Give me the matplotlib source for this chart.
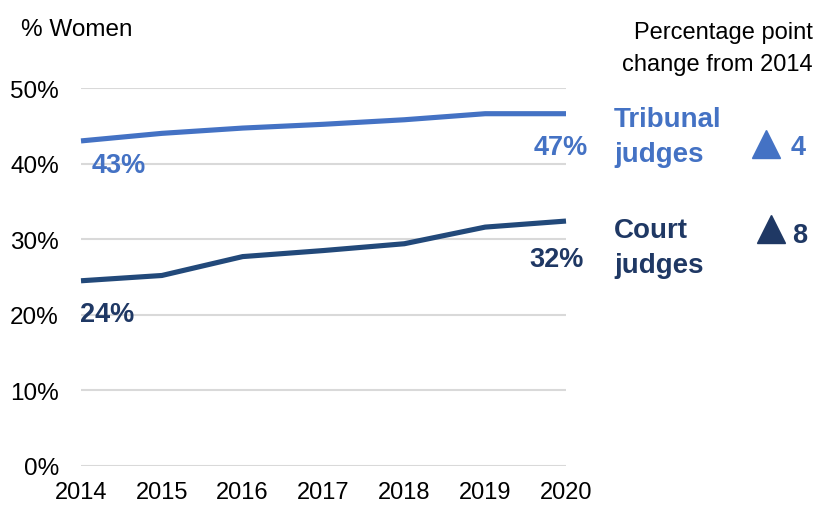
import matplotlib
matplotlib.use("Agg")
import matplotlib.pyplot as plt

plt.rcParams['font.family'] = ['Liberation Sans', 'DejaVu Sans']

years = [2014, 2015, 2016, 2017, 2018, 2019, 2020]
tribunal = [43.0, 44.0, 44.7, 45.2, 45.8, 46.6, 46.6]
court = [24.5, 25.2, 27.7, 28.5, 29.4, 31.6, 32.4]
yticks = [0, 10, 20, 30, 40, 50]
ytick_labels = ["0%", "10%", "20%", "30%", "40%", "50%"]
change_tribunal = "4"
change_court = "8"

C_TRIB = '#4472C4'
C_COURT_LINE = '#22497A'
C_COURT = '#1F3864'

W, H = 817, 506
fig = plt.figure(figsize=(W / 100, H / 100), dpi=100)
ax = fig.add_axes([81 / W, 1 - 467 / H, (566 - 81) / W, (467 - 89) / H])

ax.set_xlim(2014, 2020)
ax.set_ylim(0, 50)
ax.set_yticks(yticks)
ax.set_yticklabels(ytick_labels)
ax.set_xticks(years)
ax.set_xticklabels([str(y) for y in years])
ax.grid(axis='y', color='#D9D9D9', linewidth=1.5)
ax.set_axisbelow(True)
for s in ax.spines.values():
    s.set_visible(False)
ax.tick_params(length=0, labelsize=17.5, colors='black')
ax.tick_params(axis='y', pad=16)
ax.tick_params(axis='x', pad=10.5, labelsize=17)

ax.plot(years, tribunal, color=C_TRIB, lw=3.7, clip_on=False, solid_capstyle='butt')
ax.plot(years, court, color=C_COURT_LINE, lw=3.7, clip_on=False, solid_capstyle='butt')

lab_kw = dict(textcoords='offset pixels', fontsize=19.5, fontweight='bold', va='center')
ax.annotate(f"{tribunal[0]:.0f}%", (years[0], tribunal[0]), xytext=(11, -24),
            ha='left', color=C_TRIB, **lab_kw)
ax.annotate(f"{tribunal[-1]:.0f}%", (years[-1], tribunal[-1]), xytext=(22, -33),
            ha='right', color=C_TRIB, **lab_kw)
ax.annotate(f"{court[0]:.0f}%", (years[0], court[0]), xytext=(-1, -33),
            ha='left', color=C_COURT, **lab_kw)
ax.annotate(f"{court[-1]:.0f}%", (years[-1], court[-1]), xytext=(18, -38),
            ha='right', color=C_COURT, **lab_kw)

def fx(x):
    return x / W

def fy(y):
    return 1 - y / H

fig.text(fx(21), fy(30), "% Women", fontsize=17.5, va='center', ha='left')
fig.text(fx(813), fy(33), "Percentage point", fontsize=17, va='center', ha='right')
fig.text(fx(813), fy(65), "change from 2014", fontsize=17, va='center', ha='right')

fig.text(fx(614), fy(120), "Tribunal", fontsize=20, fontweight='bold', color=C_TRIB, va='center')
fig.text(fx(614), fy(155), "judges", fontsize=20, fontweight='bold', color=C_TRIB, va='center')
fig.text(fx(614), fy(231), "Court", fontsize=20, fontweight='bold', color=C_COURT, va='center')
fig.text(fx(614), fy(266), "judges", fontsize=20, fontweight='bold', color=C_COURT, va='center')

fig.add_artist(plt.Line2D([fx(766)], [fy(145)], marker='^', markersize=20, color=C_TRIB,
                          linestyle='none'))
fig.add_artist(plt.Line2D([fx(771)], [fy(230)], marker='^', markersize=20, color=C_COURT,
                          linestyle='none'))
fig.text(fx(791), fy(148), change_tribunal, fontsize=19.5, fontweight='bold', color=C_TRIB,
         va='center', ha='left')
fig.text(fx(792), fy(236), change_court, fontsize=19.5, fontweight='bold', color=C_COURT,
         va='center', ha='left')

fig.savefig("out.png", dpi=100)
